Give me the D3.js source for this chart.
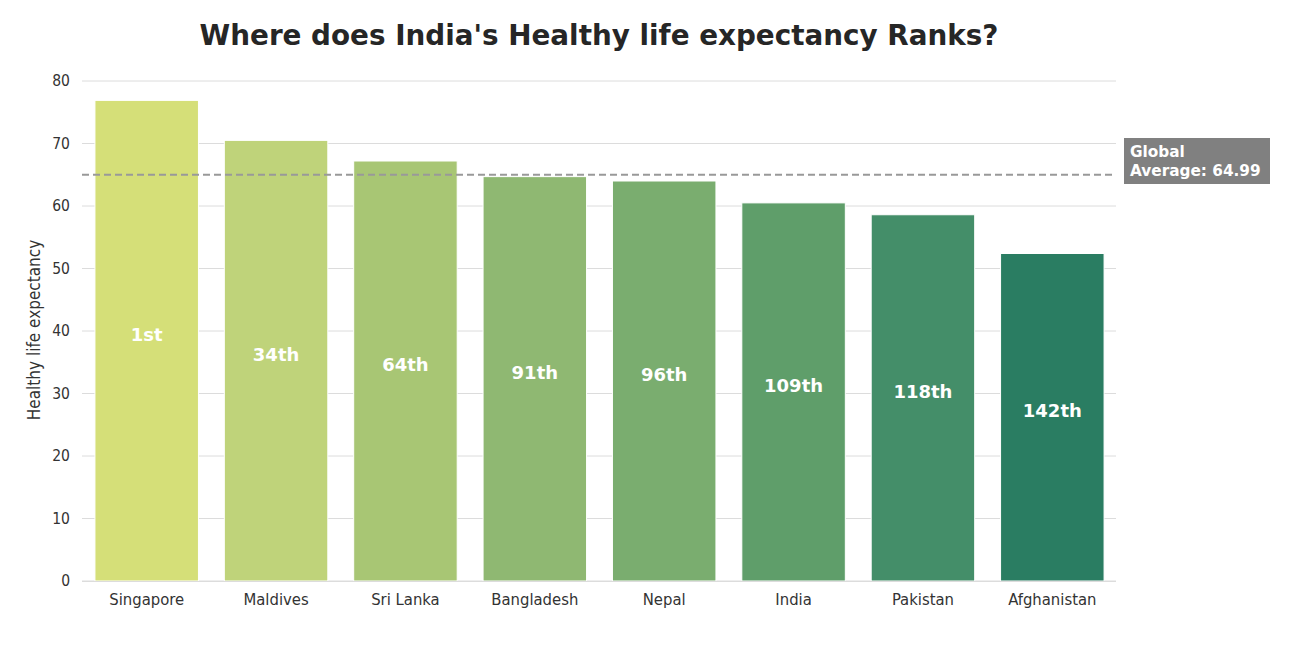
<!DOCTYPE html>
<html><head><meta charset="utf-8">
<script src="https://cdn.jsdelivr.net/npm/d3@7"></script>
<style>body{margin:0;background:#fff}svg{display:block}</style>
</head><body>
<svg id="c" width="1310" height="657"></svg>
<script>
const countries = ["Singapore","Maldives","Sri Lanka","Bangladesh","Nepal","India","Pakistan","Afghanistan"];
const values = [76.9, 70.5, 67.2, 64.7, 64.0, 60.5, 58.6, 52.4];
const ranks = ["1st","34th","64th","91th","96th","109th","118th","142th"];
const colors = ["#d5df78","#bfd37a","#a8c674","#8fb872","#7aad6f","#5f9e6a","#448e69","#2a7d62"];
const yTicks = [0,10,20,30,40,50,60,70,80];
const globalAvg = 64.99;

(function(){
const svg = d3.select("#c");
const mLeft = 82, mRight = 1117, mTop = 81, mBottom = 581;
const x = d3.scaleBand().domain(countries).range([mLeft, mRight]).paddingInner(0.2).paddingOuter(0.1);
const y = d3.scaleLinear().domain([0, 80]).range([mBottom, mTop]);
const font = "'DejaVu Sans Condensed','DejaVu Sans',sans-serif";

svg.append("g").selectAll("line").data(yTicks).join("line")
  .attr("x1", mLeft).attr("x2", 1116).attr("y1", d => y(d)).attr("y2", d => y(d))
  .attr("stroke", "#dcdcdc").attr("stroke-width", 1);

svg.append("g").selectAll("text").data(yTicks).join("text")
  .attr("x", 70).attr("y", d => y(d)).attr("dy", "0.35em")
  .attr("text-anchor", "end").attr("font-family", font).attr("font-size", 15.5)
  .attr("fill", "#333").text(d => d);

svg.append("g").selectAll("rect").data(countries).join("rect")
  .attr("x", d => x(d)).attr("width", x.bandwidth())
  .attr("y", (d, i) => y(values[i])).attr("height", (d, i) => y(0) - y(values[i]))
  .attr("fill", (d, i) => colors[i]).attr("stroke", "#fff").attr("stroke-width", 1);

svg.append("line").attr("x1", mLeft).attr("x2", 1116).attr("y1", mBottom + 0.5).attr("y2", mBottom + 0.5)
  .attr("stroke", "#dcdcdc").attr("stroke-width", 1.2);

svg.append("g").selectAll("text").data(countries).join("text")
  .attr("x", d => x(d) + x.bandwidth() / 2).attr("y", 605)
  .attr("text-anchor", "middle").attr("font-family", font).attr("font-size", 16.5)
  .attr("fill", "#333").text(d => d);

svg.append("g").selectAll("text").data(countries).join("text")
  .attr("x", d => x(d) + x.bandwidth() / 2).attr("y", (d, i) => y(values[i] / 2))
  .attr("text-anchor", "middle").attr("font-family", "'DejaVu Sans',sans-serif").attr("font-weight", "bold")
  .attr("font-size", 18).attr("fill", "#fff").text((d, i) => ranks[i]);

svg.append("line").attr("x1", mLeft).attr("x2", 1116).attr("y1", y(globalAvg)).attr("y2", y(globalAvg))
  .attr("stroke", "#999").attr("stroke-width", 2).attr("stroke-dasharray", "7,4");

svg.append("rect").attr("x", 1124).attr("y", 138).attr("width", 146).attr("height", 46).attr("fill", "#808080");
const lab = svg.append("text").attr("font-family", "'DejaVu Sans',sans-serif").attr("font-weight", "bold")
  .attr("font-size", 15.3).attr("fill", "#fff");
lab.append("tspan").attr("x", 1130).attr("y", 157).text("Global");
lab.append("tspan").attr("x", 1130).attr("y", 176).text("Average: " + globalAvg);

svg.append("text").attr("transform", "translate(40,330) rotate(-90)")
  .attr("text-anchor", "middle").attr("font-family", font).attr("font-size", 17)
  .attr("fill", "#333").text("Healthy life expectancy");

svg.append("text").attr("x", 599).attr("y", 45).attr("text-anchor", "middle")
  .attr("font-family", "'DejaVu Sans',sans-serif").attr("font-weight", "bold")
  .attr("font-size", 27.8).attr("fill", "#262626").text("Where does India's Healthy life expectancy Ranks?");
})();
</script>
</body></html>
